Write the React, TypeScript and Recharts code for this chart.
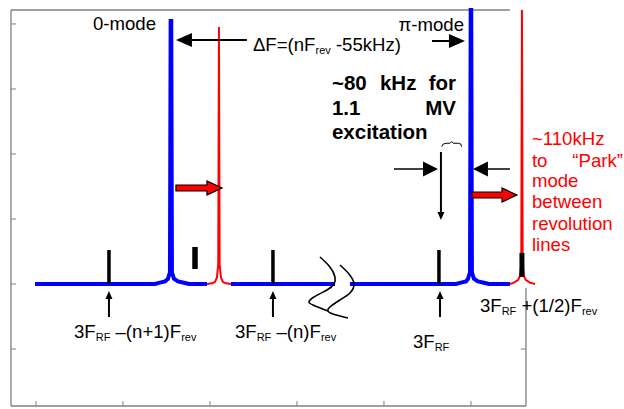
import React from 'react';
import { ComposedChart, Line, XAxis, YAxis, ReferenceLine, ReferenceDot } from 'recharts';

// ---- axes (arbitrary frequency units, amplitude units) ----
const X_DOMAIN: [number, number] = [0.713, 6.759];
const Y_DOMAIN: [number, number] = [-1.877, 4.215];
const X_TICKS = [1, 2, 3, 4, 5, 6];
const Y_TICKS = [-1, 0, 1, 2, 3, 4];
const FRAME_RIGHT = 6.632;
const TOP_BORDER_END = 6.448;
const RIGHT_BORDER_TOP = -0.062;

// ---- spectrum series [x, y] ----
const zeroModeBlue: [number, number][] = [
  [0.989, 0], [2.368, 0], [2.425, 0.02], [2.483, 0.04], [2.517, 0.08], [2.54, 0.18],
  [2.548, 4.046], [2.555, 4.046], [2.563, 0.18], [2.586, 0.08], [2.632, 0.04],
  [2.701, 0.02], [2.759, 0], [2.966, 0],
];
const zeroModeRed: [number, number][] = [
  [2.966, 0], [3.023, 0.01], [3.057, 0.03], [3.08, 0.1], [3.095, 0.3], [3.103, 3.954],
  [3.111, 0.3], [3.126, 0.1], [3.149, 0.03], [3.184, 0.01], [3.241, 0],
];
const middleBlue: [number, number][] = [[3.241, 0], [4.437, 0]];
const piModeBlue: [number, number][] = [
  [4.609, 0], [5.828, 0], [5.885, 0.02], [5.943, 0.04], [5.966, 0.08], [5.989, 0.18],
  [5.997, 4.215], [6.003, 4.215], [6.011, 0.18], [6.034, 0.08], [6.08, 0.04],
  [6.149, 0.02], [6.207, 0], [6.448, 0],
];
const piModeRed: [number, number][] = [
  [6.448, 0], [6.494, 0.02], [6.54, 0.06], [6.563, 0.12], [6.578, 0.3], [6.586, 4.215],
  [6.594, 0.3], [6.609, 0.12], [6.632, 0.06], [6.678, 0.02], [6.736, 0],
];

// revolution lines [x, yBottom, yTop]
const revolutionLines: [number, number, number][] = [
  [1.839, 0, 0.523], [3.724, 0, 0.523], [5.632, 0, 0.523],
];
const smallBars: [number, number, number][] = [[2.828, 0.231, 0.569]];
const parkBars: [number, number, number][] = [[6.586, 0.108, 0.477]];

// break marks
const breakMark1: [number, number][] = [
  [4.264, 0.415], [4.379, 0.262], [4.437, 0.108], [4.425, 0], [4.345, -0.092],
  [4.195, -0.2], [4.138, -0.277], [4.184, -0.323], [4.356, -0.415],
];
const breakMark2: [number, number][] = [
  [4.494, 0.292], [4.598, 0.154], [4.655, 0], [4.609, -0.138], [4.494, -0.246],
  [4.379, -0.354], [4.356, -0.415], [4.414, -0.462], [4.586, -0.523],
];
const brace: [number, number][] = [
  [5.663, 2.112], [5.682, 2.154], [5.721, 2.165], [5.759, 2.165], [5.778, 2.191],
  [5.797, 2.165], [5.854, 2.165], [5.882, 2.154], [5.893, 2.112],
];

// arrows: [x1, y1, x2(tip), y2(tip), kind]
const blackArrows: [number, number, number, number, string][] = [
  [3.425, 3.754, 2.609, 3.754, 'big'],
  [5.552, 3.738, 5.931, 3.738, 'big'],
  [5.115, 1.769, 5.621, 1.769, 'mid'],
  [6.448, 1.769, 6.023, 1.769, 'mid'],
  [5.655, 2.031, 5.655, 0.985, 'small'],
  [1.839, -0.508, 1.839, -0.108, 'small'],
  [3.724, -0.508, 3.724, -0.108, 'small'],
  [5.644, -0.508, 5.644, -0.108, 'small'],
];
const redArrows: [number, number, number, number][] = [
  [2.609, 1.477, 3.138, 1.477],
  [6.011, 1.369, 6.529, 1.369],
];

// text labels
const blackLabels = [
  { text: '0-mode', x: 1.655, y: 3.908, anchor: 'start' },
  { text: 'ΔF=(nF_{rev} -55kHz)', x: 3.494, y: 3.585, anchor: 'start' },
  { text: 'π-mode', x: 5.92, y: 3.892, anchor: 'end' },
  { text: '3F_{RF} –(n+1)F_{rev}', x: 1.437, y: -0.831, anchor: 'start' },
  { text: '3F_{RF} –(n)F_{rev}', x: 3.287, y: -0.831, anchor: 'start' },
  { text: '3F_{RF}', x: 5.333, y: -0.985, anchor: 'start' },
  { text: '3F_{RF} +(1/2)F_{rev}', x: 6.103, y: -0.431, anchor: 'start' },
];
const boldWords = [
  { text: '~80', x: 4.402, y: 2.985, anchor: 'start' },
  { text: 'kHz', x: 4.954, y: 2.985, anchor: 'start' },
  { text: 'for', x: 5.828, y: 2.985, anchor: 'end' },
  { text: '1.1', x: 4.402, y: 2.6, anchor: 'start' },
  { text: 'MV', x: 5.828, y: 2.6, anchor: 'end' },
  { text: 'excitation', x: 4.402, y: 2.231, anchor: 'start' },
];
const redWords = [
  { text: '~110kHz', x: 6.701, y: 2.138, anchor: 'start' },
  { text: 'to', x: 6.701, y: 1.8, anchor: 'start' },
  { text: '“Park”', x: 7.747, y: 1.8, anchor: 'end' },
  { text: 'mode', x: 6.701, y: 1.492, anchor: 'start' },
  { text: 'between', x: 6.701, y: 1.169, anchor: 'start' },
  { text: 'revolution', x: 6.701, y: 0.831, anchor: 'start' },
  { text: 'lines', x: 6.701, y: 0.508, anchor: 'start' },
];

const BLUE = '#0000ff';
const RED = '#ff0000';
const GRAY = '#808080';
const FONT = "'Liberation Sans', Arial, sans-serif";

const pts = (a: [number, number][]) => a.map(([x, y]) => ({ x, y }));
const vbar = (b: [number, number, number]) => [{ x: b[0], y: b[1] }, { x: b[0], y: b[2] }];

const HEADS: Record<string, { len: number; w: number; s: number }> = {
  big: { len: 16, w: 14, s: 2 },
  mid: { len: 15, w: 15, s: 1.5 },
  small: { len: 8, w: 7, s: 2 },
};

const arrowShape = (kind: string) => (p: any) => {
  const { x1, y1, x2, y2 } = p;
  const h = HEADS[kind];
  const L = Math.hypot(x2 - x1, y2 - y1) || 1;
  const dx = (x2 - x1) / L, dy = (y2 - y1) / L;
  const bx = x2 - dx * h.len, by = y2 - dy * h.len;
  const nx = -dy, ny = dx;
  return (
    <g>
      <line x1={x1} y1={y1} x2={bx} y2={by} stroke="#000" strokeWidth={h.s} />
      <polygon
        points={`${x2},${y2} ${bx + nx * h.w / 2},${by + ny * h.w / 2} ${bx - nx * h.w / 2},${by - ny * h.w / 2}`}
        fill="#000"
      />
    </g>
  );
};

const blockArrowShape = (p: any) => {
  const { x1, y1, x2, y2 } = p;
  const L = Math.hypot(x2 - x1, y2 - y1) || 1;
  const dx = (x2 - x1) / L, dy = (y2 - y1) / L;
  const len = 15, w = 7, s = 3;
  const bx = x2 - dx * len, by = y2 - dy * len;
  const nx = -dy, ny = dx;
  const P = (x: number, y: number) => `${x},${y}`;
  const points = [
    P(x1 + nx * s, y1 + ny * s), P(bx + nx * s, by + ny * s), P(bx + nx * w, by + ny * w),
    P(x2, y2), P(bx - nx * w, by - ny * w), P(bx - nx * s, by - ny * s), P(x1 - nx * s, y1 - ny * s),
  ].join(' ');
  return <polygon points={points} fill={RED} stroke="#000" strokeWidth={1.2} strokeLinejoin="miter" />;
};

function renderRich(s: string, subSize: number) {
  const parts = s.split(/(_\{[^}]*\})/).filter((q) => q.length > 0);
  let shifted = false;
  return parts.map((q, i) => {
    if (q.startsWith('_{')) {
      shifted = true;
      return (
        <tspan key={i} fontSize={subSize} dy={3}>
          {q.slice(2, -1)}
        </tspan>
      );
    }
    const dy = shifted ? -3 : 0;
    shifted = false;
    return (
      <tspan key={i} dy={dy}>
        {q}
      </tspan>
    );
  });
}

const textShape = (item: any, size: number, color: string, bold: boolean) => (p: any) => (
  <text
    x={p.cx}
    y={p.cy}
    textAnchor={item.anchor}
    fontFamily={FONT}
    fontSize={size}
    fontWeight={bold ? 'bold' : 'normal'}
    fill={color}
    style={{ whiteSpace: 'pre' }}
  >
    {renderRich(item.text, 11)}
  </text>
);

const noTickLabel = () => <g />;

const lineCommon = {
  dataKey: 'y',
  dot: false,
  activeDot: false,
  isAnimationActive: false,
  legendType: 'none' as const,
};

export default function App() {
  return (
    <div style={{ position: 'absolute', left: 0, top: 0, background: '#fff' }}>
      <ComposedChart width={624} height={409} margin={{ top: 10, right: 87, bottom: 3, left: 11 }}>
        <XAxis
          dataKey="x"
          type="number"
          domain={X_DOMAIN}
          ticks={X_TICKS}
          height={20}
          mirror
          tick={noTickLabel}
          tickSize={5}
          axisLine={false}
          tickLine={{ stroke: GRAY }}
        />
        <XAxis
          xAxisId="top"
          orientation="top"
          type="number"
          domain={X_DOMAIN}
          ticks={X_TICKS}
          height={20}
          mirror
          tick={noTickLabel}
          tickSize={5}
          axisLine={false}
          tickLine={{ stroke: GRAY }}
        />
        <YAxis
          type="number"
          domain={Y_DOMAIN}
          ticks={Y_TICKS}
          width={20}
          mirror
          tick={noTickLabel}
          tickSize={5}
          axisLine={{ stroke: GRAY, strokeWidth: 1.3 }}
          tickLine={{ stroke: GRAY }}
        />

        {/* frame pieces */}
        <ReferenceLine
          segment={[{ x: X_DOMAIN[0], y: Y_DOMAIN[1] }, { x: TOP_BORDER_END, y: Y_DOMAIN[1] }]}
          stroke={GRAY}
          strokeWidth={1.3}
          ifOverflow="visible"
        />
        <ReferenceLine
          segment={[{ x: X_DOMAIN[0], y: Y_DOMAIN[0] }, { x: FRAME_RIGHT, y: Y_DOMAIN[0] }]}
          stroke={GRAY}
          strokeWidth={1.3}
          ifOverflow="visible"
        />
        <ReferenceLine
          segment={[{ x: FRAME_RIGHT, y: Y_DOMAIN[0] }, { x: FRAME_RIGHT, y: RIGHT_BORDER_TOP }]}
          stroke={GRAY}
          strokeWidth={1.3}
          ifOverflow="visible"
        />
        <ReferenceLine
          segment={[{ x: FRAME_RIGHT - 0.06, y: -1 }, { x: FRAME_RIGHT, y: -1 }]}
          stroke={GRAY}
          ifOverflow="visible"
        />

        {/* spectrum */}
        <Line {...lineCommon} data={pts(zeroModeBlue)} type="linear" stroke={BLUE} strokeWidth={4} />
        <Line {...lineCommon} data={pts(middleBlue)} type="linear" stroke={BLUE} strokeWidth={4} />
        <Line {...lineCommon} data={pts(piModeBlue)} type="linear" stroke={BLUE} strokeWidth={4} />
        <Line {...lineCommon} data={pts(zeroModeRed)} type="linear" stroke={RED} strokeWidth={2} />
        <Line {...lineCommon} data={pts(piModeRed)} type="linear" stroke={RED} strokeWidth={2} />

        {revolutionLines.map((b, i) => (
          <Line key={'rv' + i} {...lineCommon} data={vbar(b)} type="linear" stroke="#000" strokeWidth={3.5} />
        ))}
        {smallBars.map((b, i) => (
          <Line key={'sb' + i} {...lineCommon} data={vbar(b)} type="linear" stroke="#000" strokeWidth={5.5} />
        ))}
        {parkBars.map((b, i) => (
          <Line key={'pb' + i} {...lineCommon} data={vbar(b)} type="linear" stroke="#000" strokeWidth={5} />
        ))}

        <Line {...lineCommon} data={pts(breakMark1)} type="natural" stroke="#000" strokeWidth={1.6} />
        <Line {...lineCommon} data={pts(breakMark2)} type="natural" stroke="#000" strokeWidth={1.6} />
        <Line {...lineCommon} data={pts(brace)} type="linear" stroke="#000" strokeWidth={1} />

        {blackArrows.map((a, i) => (
          <ReferenceLine
            key={'ba' + i}
            segment={[{ x: a[0], y: a[1] }, { x: a[2], y: a[3] }]}
            ifOverflow="visible"
            shape={arrowShape(a[4])}
          />
        ))}
        {redArrows.map((a, i) => (
          <ReferenceLine
            key={'ra' + i}
            segment={[{ x: a[0], y: a[1] }, { x: a[2], y: a[3] }]}
            ifOverflow="visible"
            shape={blockArrowShape}
          />
        ))}

        {blackLabels.map((t, i) => (
          <ReferenceDot key={'bl' + i} x={t.x} y={t.y} ifOverflow="visible" shape={textShape(t, 18.6, '#000', false)} />
        ))}
        {boldWords.map((t, i) => (
          <ReferenceDot key={'bw' + i} x={t.x} y={t.y} ifOverflow="visible" shape={textShape(t, 20.5, '#000', true)} />
        ))}
        {redWords.map((t, i) => (
          <ReferenceDot key={'rw' + i} x={t.x} y={t.y} ifOverflow="visible" shape={textShape(t, 18.6, RED, false)} />
        ))}
      </ComposedChart>
    </div>
  );
}
